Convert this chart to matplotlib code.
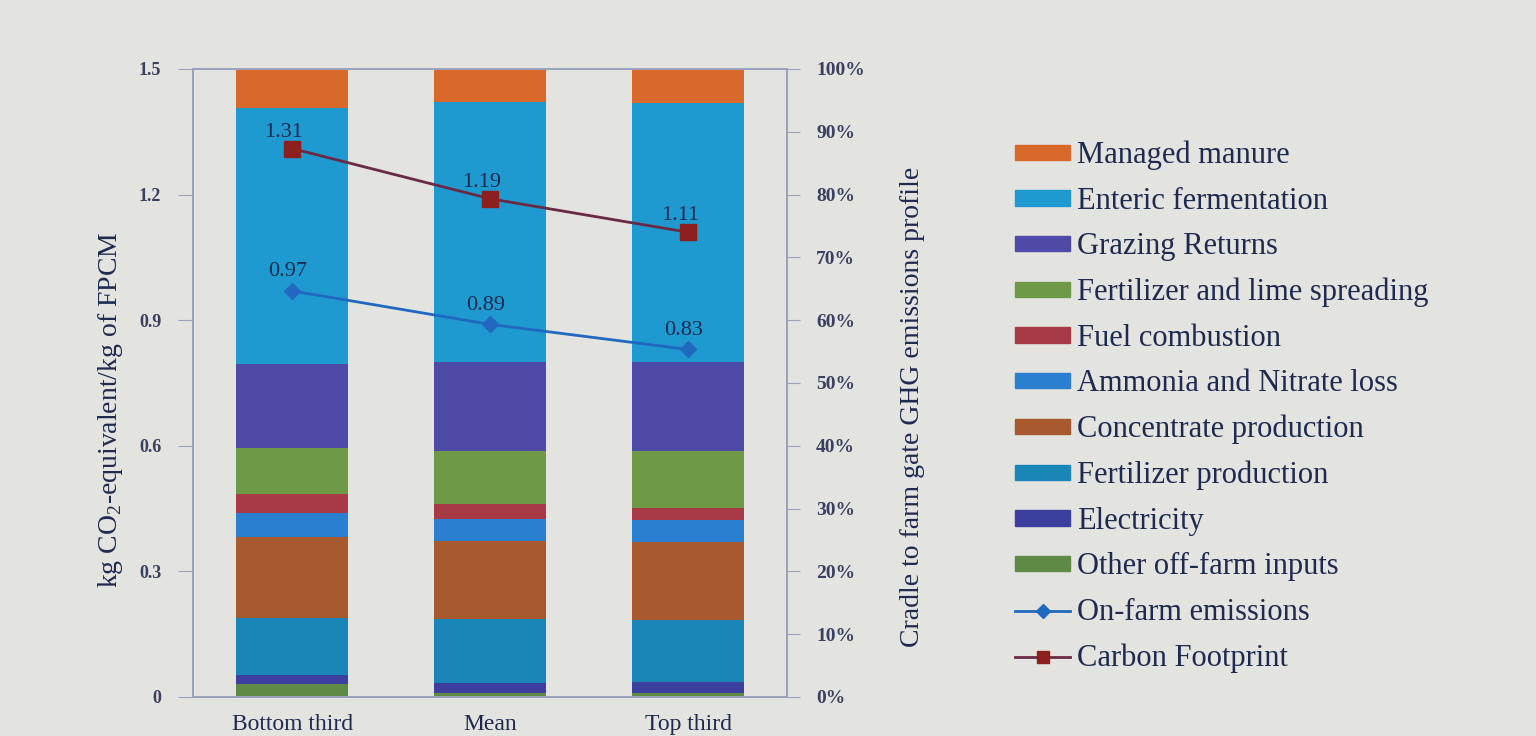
import numpy as np
import matplotlib
matplotlib.use('Agg')
import matplotlib.pyplot as plt
from matplotlib.patches import Patch
from matplotlib.lines import Line2D

plt.rcParams['font.family'] = ['Liberation Serif', 'DejaVu Serif']
plt.rcParams['mathtext.fontset'] = 'custom'
plt.rcParams['mathtext.rm'] = 'Liberation Serif'

# categorias e fontes de emissao (de baixo para cima na pilha)
groups = ['Bottom third', 'Mean', 'Top third']
sources = ['Other off-farm inputs', 'Electricity', 'Fertilizer production',
           'Concentrate production', 'Ammonia and Nitrate loss', 'Fuel combustion',
           'Fertilizer and lime spreading', 'Grazing Returns',
           'Enteric fermentation', 'Managed manure']
colors = ['#5f8a45', '#3d3f9e', '#1a86b8', '#a85a2e', '#2a7fd0', '#a83a45',
          '#6e9a48', '#4d4aa8', '#1f9ad0', '#d9692a']

# participacao (%) de cada fonte por grupo
other_offfarm = [2.1, 0.7, 0.7]
electricity = [1.4, 1.6, 1.7]
fert_production = [9.1, 10.1, 9.8]
concentrate = [12.8, 12.4, 12.4]
ammonia_nitrate = [3.9, 3.5, 3.6]
fuel = [3.0, 2.4, 1.9]
fert_lime = [7.4, 8.5, 9.1]
grazing = [13.3, 14.1, 14.1]
enteric = [40.8, 41.5, 41.3]
manure = [6.2, 5.2, 5.4]
shares = [other_offfarm, electricity, fert_production, concentrate, ammonia_nitrate,
          fuel, fert_lime, grazing, enteric, manure]

# linhas (kg CO2-eq / kg FPCM)
on_farm = [0.97, 0.89, 0.83]
carbon_footprint = [1.31, 1.19, 1.11]

bg = '#e3e3e0'
text_col = '#1e2a50'
tick_col = '#3a4060'
axis_col = '#9aa2bc'

fig = plt.figure(figsize=(15.36, 7.36), dpi=100, facecolor=bg)
ax = fig.add_axes([0.1257, 0.053, 0.3867, 0.8533])
ax2 = ax.twinx()

x = np.arange(len(groups))
bottom = np.zeros(len(groups))
for vals, c in zip(shares, colors):
    v = np.array(vals) / 100
    ax2.bar(x, v, 0.57, bottom=bottom, color=c, zorder=2)
    bottom += v

ax2.set_ylim(0, 1)
ax2.set_yticks(np.arange(0, 1.01, 0.1))
ax2.set_yticklabels([f'{int(round(t * 100))}%' for t in np.arange(0, 1.01, 0.1)])
ax2.set_yticks([0.2, 0.4, 0.6, 0.8], minor=True)
ax2.tick_params(axis='y', which='minor', length=0)
ax2.grid(which='minor', axis='y', color='#aab2c8', linewidth=1.2, zorder=0)
ax2.set_axisbelow(True)
ax2.tick_params(axis='y', which='major', direction='out', length=9, color=axis_col,
                labelsize=14, labelcolor=tick_col, pad=12)
for lbl in ax2.get_yticklabels():
    lbl.set_fontweight('bold')
ax2.set_ylabel('Cradle to farm gate GHG emissions profile', fontsize=20,
               color=text_col)
ax2.yaxis.set_label_coords(1.19, 0.462)

# linhas no eixo da esquerda, por cima das barras
ax.set_zorder(ax2.get_zorder() + 1)
ax.patch.set_visible(False)
ax2.patch.set_facecolor(bg)

ax.plot(x, carbon_footprint, color='#6a2a45', lw=2, marker='s', ms=11,
        mfc='#8e1f1f', mec='#8e1f1f', zorder=4)
ax.plot(x, on_farm, color='#2068c0', lw=2, marker='D', ms=8,
        mfc='#2068c0', mec='#2068c0', zorder=4)
for xi, v in zip(x, carbon_footprint):
    ax.annotate(f'{v:.2f}', (xi, v), xytext=(-6, 5), textcoords='offset points',
                ha='center', va='bottom', fontsize=16, color=text_col)
for xi, v in zip(x, on_farm):
    ax.annotate(f'{v:.2f}', (xi, v), xytext=(-3, 7), textcoords='offset points',
                ha='center', va='bottom', fontsize=16, color=text_col)

ax.set_xlim(-0.5, 2.5)
ax.set_ylim(0, 1.5)
ax.set_yticks([0, 0.3, 0.6, 0.9, 1.2, 1.5])
ax.set_yticklabels(['0', '0.3', '0.6', '0.9', '1.2', '1.5'])
ax.tick_params(axis='y', direction='out', length=11, color=axis_col,
               labelsize=13, labelcolor=tick_col, pad=12)
for lbl in ax.get_yticklabels():
    lbl.set_fontweight('bold')
ax.set_xticks(x)
ax.set_xticklabels(groups)
ax.tick_params(axis='x', length=0, labelsize=17, labelcolor=text_col, pad=12)
ax2.tick_params(axis='x', length=0)
ax.set_ylabel('kg CO$_\\mathrm{2}$-equivalent/kg of FPCM', fontsize=20,
              color=text_col)
ax.yaxis.set_label_coords(-0.115, 0.457)

for a in (ax, ax2):
    for s in a.spines.values():
        s.set_color(axis_col)
        s.set_linewidth(1.3)

# legenda
handles = [Patch(color=c) for c in colors[::-1]]
labels = sources[::-1]
handles.append(Line2D([], [], color='#2068c0', lw=2, marker='D', ms=7))
labels.append('On-farm emissions')
handles.append(Line2D([], [], color='#6a2a45', lw=2, marker='s', ms=9,
                      mfc='#8e1f1f', mec='#8e1f1f'))
labels.append('Carbon Footprint')
fig.legend(handles, labels, loc='upper left', bbox_to_anchor=(0.643, 0.846),
           frameon=False, fontsize=22, labelcolor=text_col, handlelength=1.8,
           handleheight=0.4, handletextpad=0.23, labelspacing=0.54)

fig.savefig('out.png', dpi=100, facecolor=bg)
